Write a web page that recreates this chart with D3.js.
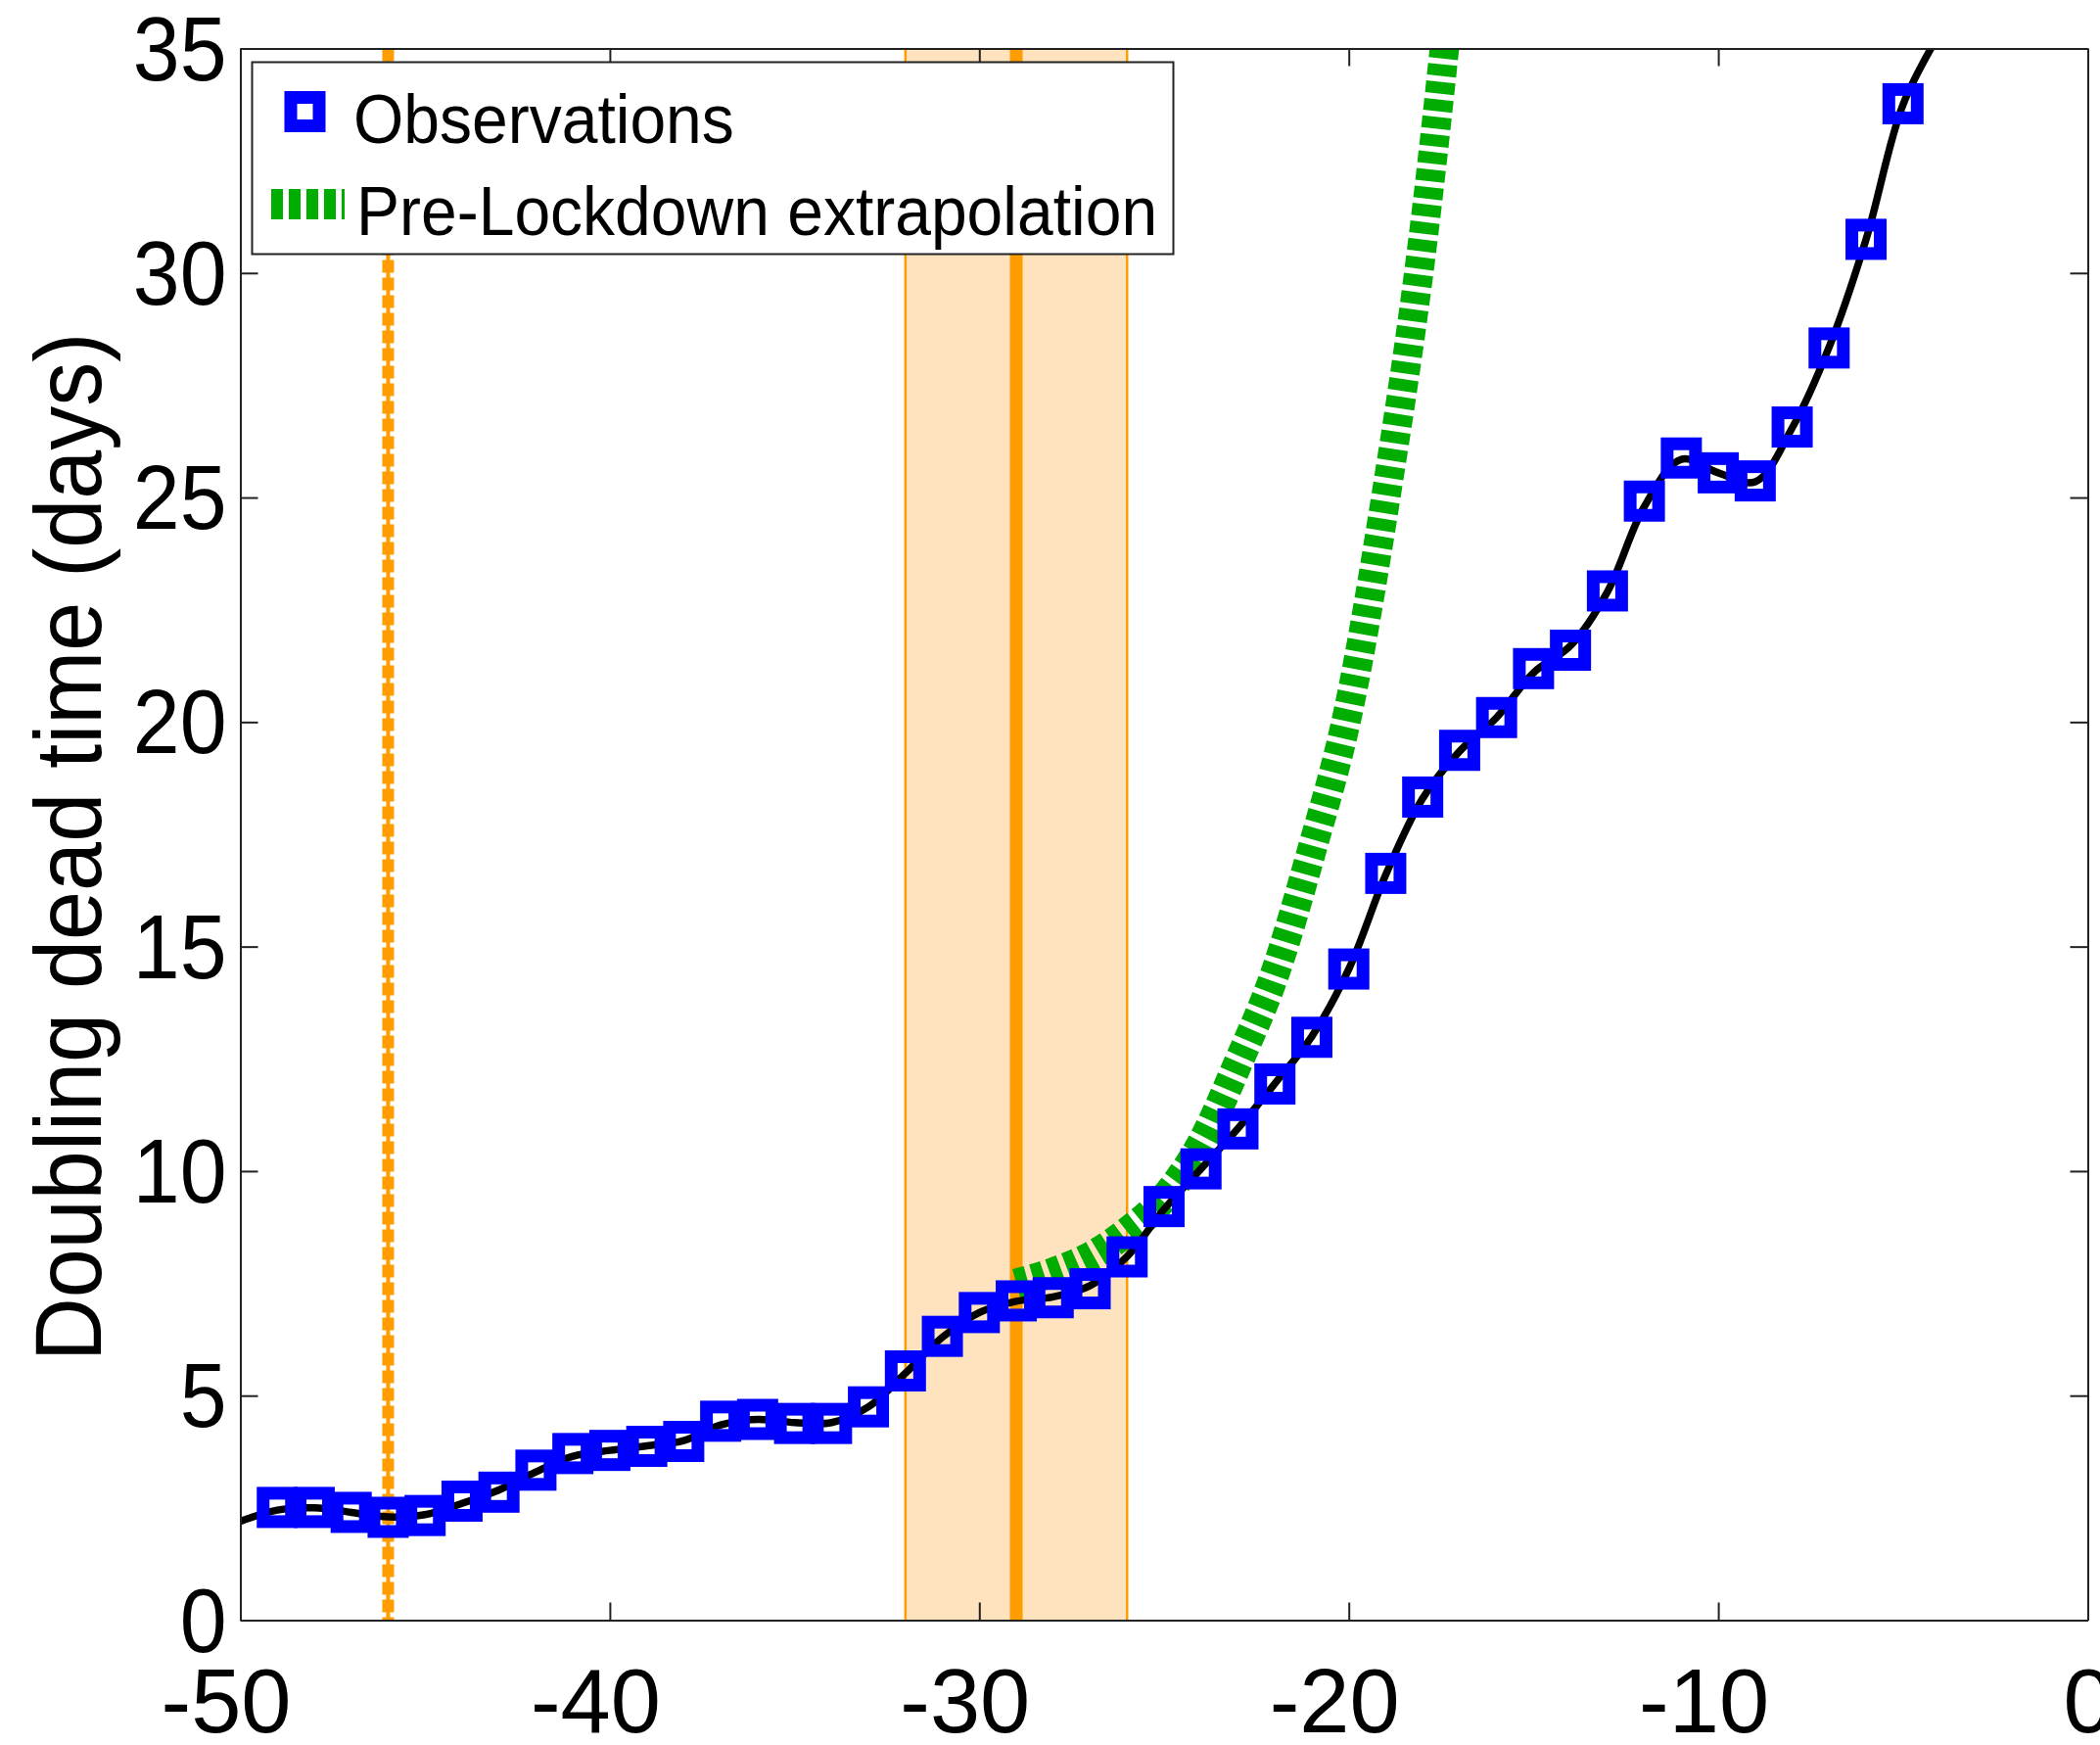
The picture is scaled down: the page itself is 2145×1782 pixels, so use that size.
<!DOCTYPE html>
<html>
<head>
<meta charset="utf-8">
<script src="https://cdn.jsdelivr.net/npm/d3@7/dist/d3.min.js"></script>
<style>
  body { margin: 0; background: #fff; }
  svg text { font-family: "Liberation Sans", Arial, sans-serif; fill: #000; }
</style>
</head>
<body>
<div id="chart"></div>
<script>
// observations (days before today, doubling time of deaths)
var obsDays = [-49,-48,-47,-46,-45,-44,-43,-42,-41,-40,-39,-38,-37,-36,-35,-34,-33,-32,-31,-30,
               -29,-28,-27,-26,-25,-24,-23,-22,-21,-20,-19,-18,-17,-16,-15,-14,-13,-12,-11,-10,
               -9,-8,-7,-6,-5];
var obsValues = [2.51,2.51,2.40,2.29,2.33,2.65,2.85,3.34,3.71,3.78,3.87,3.98,4.43,4.47,4.38,4.38,4.75,5.55,6.32,6.85,
                 7.11,7.18,7.38,8.09,9.21,10.05,10.94,11.94,12.98,14.50,16.63,18.33,19.37,20.10,21.19,21.60,22.92,24.92,25.88,25.55,
                 25.37,26.57,28.33,30.75,33.77];

// smoothed fit (black line)
var fitDays = [-50,-49,-48,-47,-46,-45,-44,-43,-42,-41,-40,-39,-38,-37,-36,-35,-34,-33,-32,-31,-30,
               -29,-28,-27,-26,-25,-24,-23,-22,-21,-20,-19,-18,-17,-16,-15,-14,-13,-12,-11,-10,
               -9,-8,-7,-6,-5,-4];
var fitValues = [2.2,2.45,2.5,2.4,2.3,2.35,2.6,2.9,3.3,3.65,3.78,3.88,4.0,4.35,4.47,4.4,4.4,4.75,5.5,6.3,6.85,
                 7.1,7.2,7.45,8.1,9.15,10.05,10.95,11.95,13.0,14.5,16.6,18.3,19.35,20.1,21.1,21.7,22.9,24.8,25.85,25.55,
                 25.35,26.55,28.35,30.75,33.75,35.35];

// pre-lockdown extrapolation (green)
var extrapDays = [-29,-28,-27,-26,-25,-24,-23,-22,-21,-20,-19,-18,-17];
var extrapValues = [7.5,7.75,8.1,8.65,9.4,10.6,12.4,14.4,17.15,20.3,25.0,30.7,38.3];

// vertical markers
var dottedDay = -46;
var lockdownDay = -29;
var bandDays = [-32, -26];

var xTicks = [-50,-40,-30,-20,-10,0];
var yTicks = [0,5,10,15,20,25,30,35];
var legendLabels = ["Observations", "Pre-Lockdown extrapolation"];
var yLabel = "Doubling dead time (days)";

var W = 2145, H = 1782;
var margin = {top: 49.5, right: 12.5, bottom: 127.5, left: 245.5},
    width = W - margin.left - margin.right,
    height = H - margin.top - margin.bottom;

var svg = d3.select("#chart").append("svg")
    .attr("width", W).attr("height", H);

var g = svg.append("g")
    .attr("transform", "translate(" + margin.left + "," + margin.top + ")");

var x = d3.scaleLinear().domain([-50, 0]).range([0, width]);
var y = d3.scaleLinear().domain([0, 35]).range([height, 0]);

g.append("defs").append("clipPath").attr("id", "clip")
  .append("rect").attr("width", width).attr("height", height);

// shaded band
g.append("rect")
    .attr("x", x(bandDays[0]))
    .attr("y", 0)
    .attr("width", x(bandDays[1]) - x(bandDays[0]))
    .attr("height", height)
    .attr("fill", "#fee3be");
bandDays.forEach(function(d) {
  g.append("line")
    .attr("x1", x(d)).attr("x2", x(d))
    .attr("y1", 0).attr("y2", height)
    .attr("stroke", "#ff9c00").attr("stroke-width", 2.5);
});

// dotted line
g.append("line")
    .attr("x1", x(dottedDay)).attr("x2", x(dottedDay))
    .attr("y1", 0).attr("y2", height)
    .attr("stroke", "#ff9c00").attr("stroke-width", 4);
g.append("line")
    .attr("x1", x(dottedDay)).attr("x2", x(dottedDay))
    .attr("y1", 0).attr("y2", height)
    .attr("stroke", "#ff9c00").attr("stroke-width", 12)
    .attr("stroke-dasharray", "13,5");

// lockdown line
g.append("line")
    .attr("x1", x(lockdownDay)).attr("x2", x(lockdownDay))
    .attr("y1", 0).attr("y2", height)
    .attr("stroke", "#ff9c00").attr("stroke-width", 13);

var lines = g.append("g").attr("clip-path", "url(#clip)");

// green extrapolation
var extrap = extrapDays.map(function(d, i) { return [d, extrapValues[i]]; });
lines.append("path")
    .datum(extrap)
    .attr("fill", "none")
    .attr("stroke", "#00ad00")
    .attr("stroke-width", 30)
    .attr("stroke-dasharray", "12,6")
    .attr("d", d3.line()
      .curve(d3.curveMonotoneX)
      .x(function(d) { return x(d[0]); })
      .y(function(d) { return y(d[1]); }));

// black fit
var fit = fitDays.map(function(d, i) { return [d, fitValues[i]]; });
lines.append("path")
    .datum(fit)
    .attr("fill", "none")
    .attr("stroke", "#000")
    .attr("stroke-width", 7.5)
    .attr("d", d3.line()
      .curve(d3.curveCatmullRom)
      .x(function(d) { return x(d[0]); })
      .y(function(d) { return y(d[1]); }));

// observation markers
var sq = 29;
g.append("g").selectAll("rect")
    .data(obsDays.map(function(d, i) { return [d, obsValues[i]]; }))
    .enter().append("rect")
    .attr("x", function(d) { return x(d[0]) - sq / 2; })
    .attr("y", function(d) { return y(d[1]) - sq / 2; })
    .attr("width", sq).attr("height", sq)
    .attr("fill", "none")
    .attr("stroke", "#0000ff")
    .attr("stroke-width", 13);

// axes (ticks inside, box)
var axisBottom = g.append("g")
    .attr("transform", "translate(0," + height + ")")
    .call(d3.axisBottom(x).tickValues(xTicks).tickSize(-18).tickSizeOuter(0).tickPadding(49));
var axisLeft = g.append("g")
    .call(d3.axisLeft(y).tickValues(yTicks).tickSize(-18).tickSizeOuter(0).tickPadding(14));
g.append("g")
    .call(d3.axisTop(x).tickValues(xTicks).tickSize(-18).tickSizeOuter(0).tickFormat(""));
g.append("g")
    .attr("transform", "translate(" + width + ",0)")
    .call(d3.axisRight(y).tickValues(yTicks).tickSize(-18).tickSizeOuter(0).tickFormat(""));

g.selectAll(".domain, .tick line").attr("stroke", "#222").attr("stroke-width", 2);
g.selectAll(".tick text")
    .attr("fill", "#000")
    .style("font-family", "'Liberation Sans', Arial, sans-serif")
    .style("font-size", "92px");
axisBottom.selectAll(".tick text")
    .text(function(d) { return d < 0 ? "-" + Math.abs(d) : d; })
    .attr("dx", function(d) { return d < 0 ? -15 : 0; });
axisLeft.selectAll(".tick text")
    .style("font-size", "86px")
    .attr("dy", "0.34em")
    .attr("transform", "scale(1,1.08)");

// legend
var legend = svg.append("g");
legend.append("rect")
    .attr("x", 257.5).attr("y", 63.5)
    .attr("width", 941).attr("height", 196)
    .attr("fill", "#fff").attr("stroke", "#222").attr("stroke-width", 2);
legend.append("rect")
    .attr("x", 311.5 - sq / 2).attr("y", 114 - sq / 2)
    .attr("width", sq).attr("height", sq)
    .attr("fill", "none").attr("stroke", "#0000ff").attr("stroke-width", 13);
legend.append("line")
    .attr("x1", 277).attr("x2", 352)
    .attr("y1", 208.5).attr("y2", 208.5)
    .attr("stroke", "#00ad00").attr("stroke-width", 31)
    .attr("stroke-dasharray", "12,6");
legend.selectAll("text.leg")
    .data(legendLabels)
    .enter().append("text")
    .attr("class", "leg")
    .attr("transform", function(d, i) { return "translate(" + (i ? 364 : 361) + "," + (i ? 240 : 146) + ") scale(1,1.08)"; })
    .style("font-size", "66px")
    .text(function(d) { return d; });

// y label
svg.append("text")
    .attr("transform", "translate(103,865) rotate(-90) scale(1,1.08)")
    .attr("text-anchor", "middle")
    .style("font-size", "90px")
    .text(yLabel);
</script>
</body>
</html>
